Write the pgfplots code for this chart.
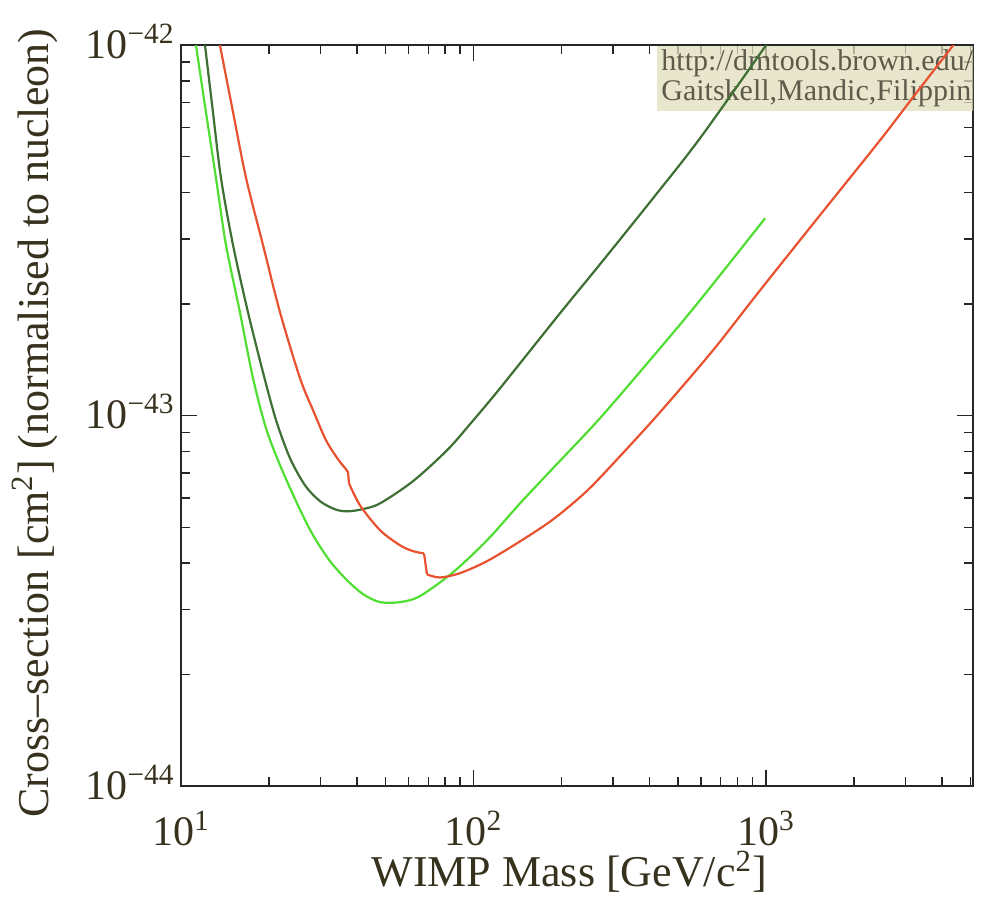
\documentclass[border=0pt]{standalone}
\usepackage{fontspec}
\setmainfont{Liberation Serif}
\usepackage{pgfplots}
\pgfplotsset{compat=1.18}
\definecolor{lgreen}{RGB}{80,222,50}
\definecolor{dgreen}{RGB}{62,112,52}
\definecolor{cred}{RGB}{232,82,48}
\definecolor{txt}{RGB}{55,50,30}
\definecolor{boxbg}{RGB}{226,222,190}
\begin{document}
\begin{tikzpicture}
\useasboundingbox (-90.5pt,-55pt) rectangle (401pt,393pt);
\begin{axis}[
  at={(0,0)}, anchor=south west,
  scale only axis, width=396pt, height=370.5pt,
  xmode=log, ymode=log,
  xmin=10, xmax=5100, ymin=1e-44, ymax=1e-42,
  axis line style={black!85, line width=0.8pt},
  tick style={black!85, line width=0.7pt},
  tick align=inside,
  major tick length=8pt, minor tick length=4.5pt,
  xtick={10,100,1000},
  xticklabels={10\textsuperscript{1},10\textsuperscript{2},10\textsuperscript{3}},
  minor xtick={20,30,40,50,60,70,80,90,200,300,400,500,600,700,800,900,2000,3000,4000,5000},
  ytick={1e-44,1e-43,1e-42},
  yticklabels={10\textsuperscript{−44},10\textsuperscript{−43},10\textsuperscript{−42}},
  minor ytick={2e-44,3e-44,4e-44,5e-44,6e-44,7e-44,8e-44,9e-44,2e-43,3e-43,4e-43,5e-43,6e-43,7e-43,8e-43,9e-43},
  xticklabel style={anchor=base, inner sep=0pt, yshift=-29.5pt, font=\fontsize{21}{24}\selectfont, text=txt},
  yticklabel style={anchor=base east, inner sep=0pt, xshift=-3pt, yshift=-6.5pt, font=\fontsize{21}{24}\selectfont, text=txt},
  every axis x label/.style={at={(rel axis cs:0.49,0)}, anchor=base, yshift=-50pt, font=\fontsize{22}{26}\selectfont, text=txt},
  every axis y label/.style={at={(rel axis cs:0,0.49)}, anchor=center, rotate=90, yshift=73pt, font=\fontsize{22}{26}\selectfont, text=txt},
  xlabel={WIMP Mass [GeV/c\textsuperscript{2}]},
  ylabel={Cross--section [cm\textsuperscript{2}] (normalised to nucleon)},
  clip=true,
]
\begin{scope}
\clip (rel axis cs:0,0) rectangle (rel axis cs:1,1);
\node[anchor=north west, fill=boxbg, fill opacity=0.75, text opacity=1, text=txt!80, inner xsep=2pt, inner ysep=2pt, align=left, font=\fontsize{15}{15}\selectfont] at (rel axis cs:0.601,1) {http://dmtools.brown.edu/-\\Gaitskell,Mandic,Filippini};
\end{scope}
% dark green
\addplot[dgreen, line width=1.1pt, smooth, tension=0.5] coordinates {
(12.08,1e-42) (12.86,6.60e-43) (13.70,4.38e-43) (15.06,2.89e-43) (16.95,1.90e-43)
(19.07,1.31e-43) (21.13,9.73e-44) (23.59,7.68e-44) (26.54,6.49e-44) (29.87,5.88e-44)
(33.62,5.59e-44) (36.94,5.52e-44) (41.57,5.59e-44) (47.90,5.80e-44) (62.12,6.66e-44)
(81.21,8.07e-44) (97.27,9.49e-44) (123.2,1.186e-43) (197.6,1.891e-43) (270.7,2.564e-43)
(410.9,3.864e-43) (594.8,5.61e-43) (1000,1e-42) (1020,1.03e-42)
};
% light green
\addplot[lgreen, line width=1.1pt, smooth, tension=0.5] coordinates {
(11.25,1e-42) (12.17,6.60e-43) (13.17,4.38e-43) (14.25,2.89e-43) (15.91,1.90e-43)
(17.63,1.262e-43) (19.53,9.25e-44) (21.81,7.35e-44) (24.93,5.80e-44) (28.27,4.76e-44)
(32.32,4.05e-44) (36.94,3.60e-44) (41.90,3.30e-44) (47.90,3.14e-44) (56.07,3.14e-44)
(65.62,3.26e-44) (85.11,3.78e-44) (111.2,4.61e-44) (144.2,5.80e-44) (187.0,7.22e-44)
(270.7,9.85e-44) (434.1,1.521e-43) (594.8,2.05e-43) (992.2,3.41e-43)
};
% red, in pieces to keep the two sharp steps
\addplot[cred, line width=1.1pt, smooth, tension=0.5] coordinates {
(13.59,1e-42) (15.06,6.60e-43) (16.69,4.38e-43) (19.07,2.89e-43) (21.81,1.90e-43)
(25.52,1.262e-43) (28.27,1.035e-43) (31.31,8.59e-44) (34.42,7.63e-44) (36.65,7.17e-44)
(37.23,7.04e-44)
};
\addplot[cred, line width=1.1pt] coordinates {(37.23,7.04e-44) (37.53,6.57e-44)};
\addplot[cred, line width=1.1pt, smooth, tension=0.5] coordinates {
(37.53,6.57e-44) (40.93,5.73e-44) (47.90,4.91e-44) (56.07,4.47e-44)
(62.12,4.31e-44) (67.72,4.25e-44)
};
\addplot[cred, line width=1.1pt] coordinates {(67.72,4.25e-44) (69.34,3.73e-44)};
\addplot[cred, line width=1.1pt, smooth, tension=0.5] coordinates {
(69.34,3.73e-44) (76.83,3.66e-44) (89.92,3.76e-44)
(111.2,4.05e-44) (144.2,4.58e-44) (187.0,5.25e-44) (244.3,6.27e-44) (316.9,7.78e-44)
(434.1,1.022e-43) (658.9,1.502e-43) (953.9,2.18e-43) (1530,3.48e-43) (2453,5.54e-43)
(3181,7.24e-43) (4498,1.031e-42)
};
\end{axis}
\end{tikzpicture}
\end{document}
